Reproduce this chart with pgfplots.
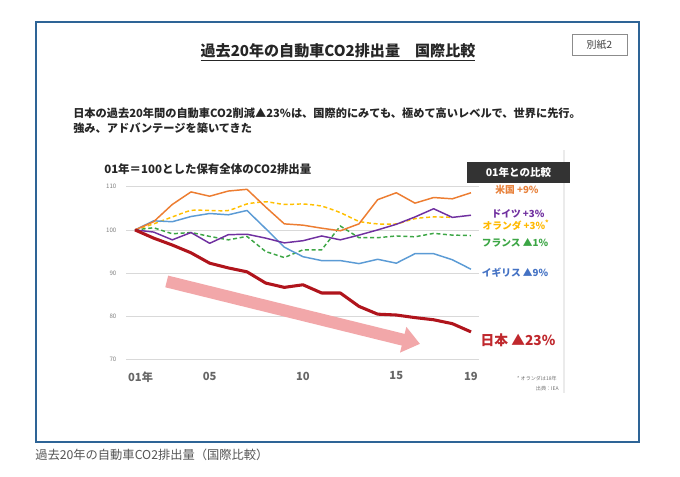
\documentclass[border=0pt]{standalone}
\usepackage{pgfplots}
\pgfplotsset{compat=1.18}
\usepackage{fontspec}
\setmainfont{Noto Sans CJK JP}
\usetikzlibrary{arrows.meta}
\definecolor{frameblue}{HTML}{2E6496}
\definecolor{cus}{HTML}{ED7D31}
\definecolor{cnl}{HTML}{FFC000}
\definecolor{cuk}{HTML}{5B9BD5}
\definecolor{cde}{HTML}{7030A0}
\definecolor{cfr}{HTML}{3CA645}
\definecolor{cjp}{HTML}{B0141C}
\definecolor{lus}{HTML}{E8823C}
\definecolor{lnl}{HTML}{FFB900}
\definecolor{luk}{HTML}{4472C4}
\definecolor{ljp}{HTML}{C0282D}
\definecolor{arrowpink}{HTML}{F2A7A9}
\definecolor{txtgray}{HTML}{555555}
\newcommand{\fs}[1]{\fontsize{#1}{#1}\selectfont}
\begin{document}
\begin{tikzpicture}
\begin{scope}[x=0.75pt,y=-0.75pt]
\path[use as bounding box, fill=white] (0,0) rectangle (680,476);
\draw[frameblue, line width=1.9pt] (36,22) rectangle (639,442);
% title
\node[font=\fs{11.3}\bfseries, text=black!85] at (338,52) {\underline{過去20年の自動車CO2排出量　国際比較}};
\draw[black!45, line width=0.6pt, fill=white] (572,34) rectangle (627,55);
\node[font=\fs{7.5}, text=black!75] at (599.5,44.5) {別紙2};
% subtitle
\node[anchor=west, font=\fs{8.4}\bfseries, text=black!85, inner sep=0pt] at (73,113) {日本の過去20年間の自動車CO2削減▲23\%は、国際的にみても、極めて高いレベルで、世界に先行。};
\node[anchor=west, font=\fs{8.4}\bfseries, text=black!85, inner sep=0pt] at (73,128) {強み、アドバンテージを築いてきた};
% chart title
\node[anchor=west, font=\fs{8.6}\bfseries, text=black!85, inner sep=0pt] at (104,169) {01年＝100とした保有全体のCO2排出量};
% faint edge
\draw[black!8, line width=0.8pt] (564,150) -- (564,393);
% legend box
\fill[black!80] (467,162) rectangle (570,183);
\node[font=\fs{7.9}\bfseries, text=white] at (518.5,172.5) {01年との比較};
\node[font=\fs{7.3}\bfseries, text=lus] at (517,190) {米国 +9\%};
\node[font=\fs{7.3}\bfseries, text=cde] at (518,214) {ドイツ +3\%};
\node[font=\fs{7.3}\bfseries, text=lnl] at (516,225) {オランダ +3\%\textsuperscript{*}};
\node[font=\fs{7.3}\bfseries, text=cfr] at (515,243) {フランス ▲1\%};
\node[font=\fs{7.3}\bfseries, text=luk] at (515,273) {イギリス ▲9\%};
\node[font=\fs{10.3}\bfseries, text=ljp] at (518,340) {日本 ▲23\%};
\node[anchor=east, font=\fs{3.8}, text=black!55, inner sep=0pt] at (557,379) {* オランダは18年};
\node[anchor=east, font=\fs{3.8}, text=black!55, inner sep=0pt] at (559,389) {出典：IEA};
% caption
\node[anchor=west, font=\fs{9.2}, text=txtgray, inner sep=0pt] at (35,455) {過去20年の自動車CO2排出量（国際比較）};
\end{scope}
\begin{axis}[
  at={(94.5pt,-269.625pt)}, anchor=south west,
  width=264.75pt, height=129.6pt, scale only axis,
  xmin=0.518, xmax=19.43, ymin=70, ymax=110,
  axis line style={draw=none},
  tick style={draw=none},
  ymajorgrids, major grid style={black!15, line width=0.6pt},
  ytick={70,80,90,100,110},
  xtick={1,5,10,15,19},
  xticklabels={01\rlap{年},05,10,15,19},
  /pgf/number format/assume math mode=true,
  yticklabel style={font=\fs{4.6}, text=black!50, inner sep=0pt, xshift=-7pt},
  xticklabel style={font=\fs{8.4}\bfseries, text=black!60, inner sep=0pt, yshift=-9pt},
  clip=false,
]
\draw[arrowpink, line width=9pt, -{Triangle[length=13pt,width=19pt]}] (axis cs:2.70,88.07) -- (axis cs:16.27,73.62);
\addplot[cnl, line width=1.1pt, dash pattern=on 3pt off 2pt, smooth, tension=0.4] coordinates {(1,100)(2,101.4)(3,103)(4,104.5)(5,104.5)(6,104.5)(7,106)(8,106.5)(9,105.9)(10,106)(11,105.5)(12,104)(13,102)(14,101.4)(15,101.4)(16,102.6)(17,103)(18,102.9)};
\addplot[cfr, line width=1.1pt, dash pattern=on 3pt off 2pt] coordinates {(1,100)(2,100.5)(3,99.1)(4,99.4)(5,98.5)(6,97.7)(7,98.5)(8,95)(9,93.6)(10,95.4)(11,95.4)(12,100.9)(13,98.2)(14,98.2)(15,98.6)(16,98.4)(17,99.2)(18,98.8)(19,98.7)};
\addplot[cuk, line width=1.1pt, line join=round] coordinates {(1,100)(2,102.1)(3,101.9)(4,103.1)(5,103.8)(6,103.5)(7,104.5)(8,100.3)(9,96)(10,93.8)(11,92.9)(12,92.9)(13,92.2)(14,93.2)(15,92.3)(16,94.5)(17,94.5)(18,93.1)(19,90.9)};
\addplot[cus, line width=1.1pt, line join=round] coordinates {(1,100)(2,101.9)(3,105.9)(4,108.8)(5,107.8)(6,109)(7,109.4)(8,105.3)(9,101.4)(10,101.1)(11,100.4)(12,99.8)(13,101.4)(14,107)(15,108.6)(16,106.2)(17,107.5)(18,107.2)(19,108.6)};
\addplot[cde, line width=1.1pt, line join=round] coordinates {(1,100)(2,99.5)(3,97.7)(4,99.4)(5,96.9)(6,98.9)(7,99)(8,98.1)(9,97)(10,97.5)(11,98.6)(12,97.7)(13,98.8)(14,100)(15,101.3)(16,103)(17,104.9)(18,102.9)(19,103.4)};
\addplot[cjp, line width=2.3pt, line join=round] coordinates {(1,100)(2,98.1)(3,96.5)(4,94.7)(5,92.3)(6,91.2)(7,90.3)(8,87.7)(9,86.7)(10,87.3)(11,85.4)(12,85.4)(13,82.3)(14,80.5)(15,80.3)(16,79.7)(17,79.2)(18,78.3)(19,76.4)};
\end{axis}
\end{tikzpicture}
\end{document}
